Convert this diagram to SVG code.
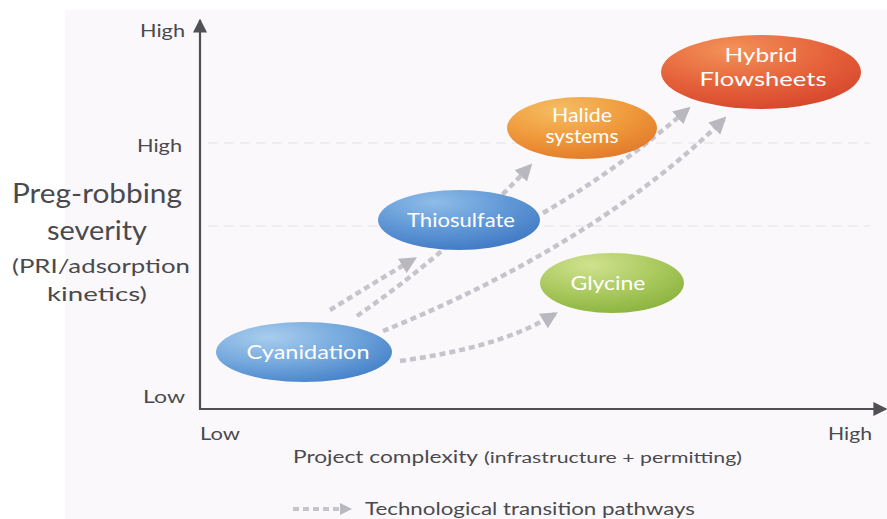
<svg xmlns="http://www.w3.org/2000/svg" width="887" height="519" viewBox="0 0 887 519">
<defs>
<style>
.lbl{font-family:Lato,"Open Sans","Liberation Sans",sans-serif;fill:#4a4a4e}
.node{font-family:Lato,"Open Sans","Liberation Sans",sans-serif;fill:#ffffff;text-anchor:middle;font-size:19px}
.conn{fill:none;stroke:#c5c4ca;stroke-width:4.5;stroke-dasharray:6 4}
.grid{stroke:#ebe8ef;stroke-width:1.5;stroke-dasharray:10 6;fill:none}
</style>
<marker id="ah" viewBox="0 0 10 10" refX="8" refY="5" markerWidth="17" markerHeight="17" markerUnits="userSpaceOnUse" orient="auto">
<path d="M0,0 L10,5 L0,10 z" fill="#b9b8bf"/>
</marker>
<marker id="axh" viewBox="0 0 10 10" refX="9" refY="5" markerWidth="14" markerHeight="14" markerUnits="userSpaceOnUse" orient="auto">
<path d="M0,0 L10,5 L0,10 z" fill="#505055"/>
</marker>
<radialGradient id="gBlue" cx="0.3" cy="0.25" r="0.85">
<stop offset="0" stop-color="#a8cdee"/>
<stop offset="0.55" stop-color="#72a6dc"/>
<stop offset="1" stop-color="#4380c8"/>
</radialGradient>
<radialGradient id="gBlue2" cx="0.35" cy="0.2" r="0.85">
<stop offset="0" stop-color="#8fbce8"/>
<stop offset="0.55" stop-color="#5f97d6"/>
<stop offset="1" stop-color="#4079c4"/>
</radialGradient>
<radialGradient id="gOrange" cx="0.35" cy="0.2" r="0.85">
<stop offset="0" stop-color="#f6bd63"/>
<stop offset="0.55" stop-color="#ef9a3b"/>
<stop offset="1" stop-color="#e27a2a"/>
</radialGradient>
<radialGradient id="gRed" cx="0.35" cy="0.2" r="0.9">
<stop offset="0" stop-color="#f39258"/>
<stop offset="0.55" stop-color="#e5613a"/>
<stop offset="1" stop-color="#d4432b"/>
</radialGradient>
<radialGradient id="gGreen" cx="0.35" cy="0.2" r="0.85">
<stop offset="0" stop-color="#cfe28f"/>
<stop offset="0.55" stop-color="#aac95e"/>
<stop offset="1" stop-color="#8bb33f"/>
</radialGradient>
</defs>
<rect x="0" y="0" width="887" height="519" fill="#ffffff"/>
<rect x="65" y="10" width="822" height="509" fill="#faf8fb"/>
<g id="grid">
<line class="grid" x1="208" y1="143" x2="870" y2="143"/>
<line class="grid" x1="208" y1="226" x2="870" y2="226"/>
</g>
<g id="axes">
<line x1="200" y1="409" x2="200" y2="20" stroke="#505055" stroke-width="2.2" marker-end="url(#axh)"/>
<line x1="199" y1="409" x2="886" y2="409" stroke="#505055" stroke-width="2.2" marker-end="url(#axh)"/>
<text class="lbl" x="140" y="37" font-size="17" textLength="45" lengthAdjust="spacingAndGlyphs">High</text>
<text class="lbl" x="137" y="152" font-size="17" textLength="45" lengthAdjust="spacingAndGlyphs">High</text>
<text class="lbl" x="143" y="403" font-size="17" textLength="42" lengthAdjust="spacingAndGlyphs">Low</text>
<text class="lbl" x="200" y="440" font-size="17" textLength="40" lengthAdjust="spacingAndGlyphs">Low</text>
<text class="lbl" x="828" y="440" font-size="17" textLength="44" lengthAdjust="spacingAndGlyphs">High</text>
<text class="lbl" x="12" y="203" font-size="26" textLength="170" lengthAdjust="spacingAndGlyphs">Preg-robbing</text>
<text class="lbl" x="47" y="240" font-size="26" textLength="100" lengthAdjust="spacingAndGlyphs">severity</text>
<text class="lbl" x="12" y="273" font-size="20" textLength="178" lengthAdjust="spacingAndGlyphs">(PRI/adsorption</text>
<text class="lbl" x="47" y="301" font-size="20" textLength="100" lengthAdjust="spacingAndGlyphs">kinetics)</text>
<text class="lbl" x="293" y="463" font-size="18" textLength="185" lengthAdjust="spacingAndGlyphs">Project complexity</text>
<text class="lbl" x="484" y="463" font-size="15.5" textLength="258" lengthAdjust="spacingAndGlyphs">(infrastructure + permitting)</text>
</g>
<g id="connectors">
<path class="conn" d="M330,310 Q372,284 414,259" marker-end="url(#ah)"/>
<path class="conn" d="M357,316 C420,272 472,228 530,166" marker-end="url(#ah)"/>
<path class="conn" d="M383,331 C480,292 620,222 724,119" marker-end="url(#ah)"/>
<path class="conn" d="M543,213 Q620,168 688,109" marker-end="url(#ah)"/>
<path class="conn" d="M400,361 C462,352 512,340 555,314" marker-end="url(#ah)"/>
</g>
<g id="cyanidation">
<ellipse cx="304" cy="352" rx="88" ry="30" fill="url(#gBlue)"/>
<text class="node" x="308" y="359" font-size="20" textLength="123" lengthAdjust="spacingAndGlyphs">Cyanidation</text>
</g>
<g id="thiosulfate">
<ellipse cx="459" cy="220" rx="81" ry="30" fill="url(#gBlue2)"/>
<text class="node" x="461" y="227" textLength="108" lengthAdjust="spacingAndGlyphs">Thiosulfate</text>
</g>
<g id="halide">
<ellipse cx="582" cy="128" rx="75" ry="31" fill="url(#gOrange)"/>
<text class="node" x="582" y="122" font-size="15" textLength="60" lengthAdjust="spacingAndGlyphs">Halide</text>
<text class="node" x="582" y="143" font-size="15" textLength="73" lengthAdjust="spacingAndGlyphs">systems</text>
</g>
<g id="hybrid">
<ellipse cx="761" cy="72" rx="100" ry="37" fill="url(#gRed)"/>
<text class="node" x="761" y="62" font-size="21" textLength="73" lengthAdjust="spacingAndGlyphs">Hybrid</text>
<text class="node" x="763" y="86" font-size="21" textLength="127" lengthAdjust="spacingAndGlyphs">Flowsheets</text>
</g>
<g id="glycine">
<ellipse cx="612" cy="283" rx="72" ry="30" fill="url(#gGreen)"/>
<text class="node" x="608" y="290" textLength="75" lengthAdjust="spacingAndGlyphs">Glycine</text>
</g>
<g id="legend">
<line x1="293" y1="509" x2="339" y2="509" stroke="#c5c4ca" stroke-width="4" stroke-dasharray="6 4"/>
<path d="M340,503 L352,509 L340,515 z" fill="#b9b8bf"/>
<text class="lbl" x="365" y="515" font-size="18" textLength="330" lengthAdjust="spacingAndGlyphs">Technological transition pathways</text>
</g>
</svg>
